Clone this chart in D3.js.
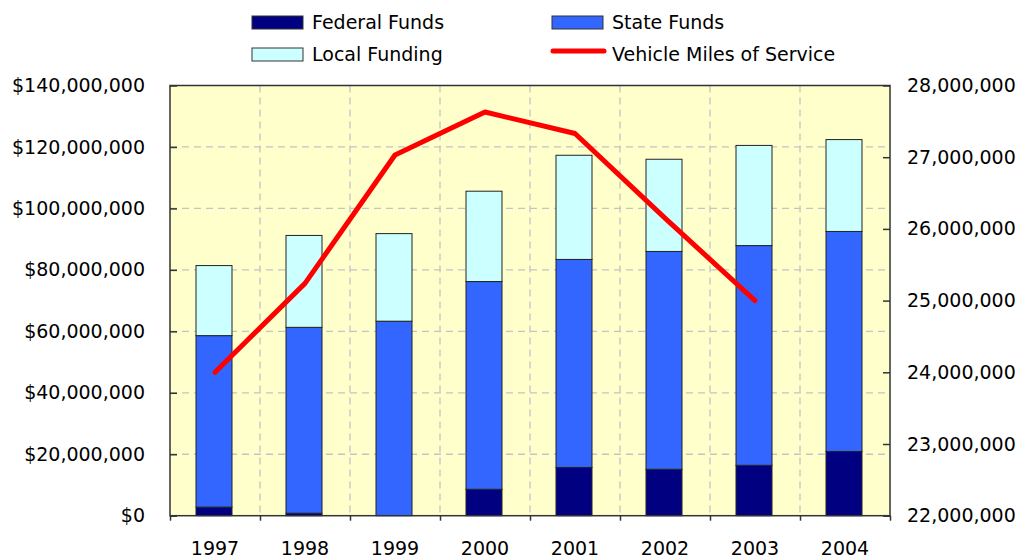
<!DOCTYPE html>
<html>
<head>
<meta charset="utf-8">
<script src="https://cdn.jsdelivr.net/npm/d3@7"></script>
<style>
  body { margin: 0; background: #fff; }
  text { font-family: "DejaVu Sans", sans-serif; fill: #000; }
</style>
</head>
<body>
<div id="chart"></div>
<script>
// data (dollars in millions, miles in millions)
var years = ["1997", "1998", "1999", "2000", "2001", "2002", "2003", "2004"];
var federalFunds = [2.8, 0.8, 0, 8.6, 15.7, 15.1, 16.4, 20.9];
var stateFunds = [55.8, 60.5, 63.3, 67.6, 67.7, 70.9, 71.5, 71.6];
var localFunding = [22.8, 29.9, 28.5, 29.4, 33.9, 30.0, 32.6, 29.9];
var vehicleMiles = [24.0, 25.24, 27.03, 27.63, 27.33, 26.15, 25.0, null];
var leftTicks = [0, 20, 40, 60, 80, 100, 120, 140];
var rightTicks = [22, 23, 24, 25, 26, 27, 28];
var seriesNames = ["Federal Funds", "State Funds", "Local Funding", "Vehicle Miles of Service"];

var width = 1021, height = 558;
var plot = {left: 170, right: 890, top: 85.5, bottom: 515.7};
var colors = {fed: "#000080", state: "#3366ff", local: "#ccffff", line: "#ff0000", bg: "#ffffcc"};
var fontSize = 19;

var svg = d3.select("#chart").append("svg")
    .attr("width", width)
    .attr("height", height);

var x = d3.scaleBand().domain(years).range([plot.left, plot.right]);
var xEdge = d3.scaleLinear().domain([0, years.length]).range([plot.left, plot.right]);
var y = d3.scaleLinear().domain([0, 140]).range([plot.bottom, plot.top]);
var y2 = d3.scaleLinear().domain([22, 28]).range([plot.bottom, plot.top]);

// plot background
svg.append("rect")
    .attr("x", plot.left).attr("y", plot.top)
    .attr("width", plot.right - plot.left)
    .attr("height", plot.bottom - plot.top)
    .attr("fill", colors.bg);

// dashed grid
svg.append("g").selectAll("line")
    .data(leftTicks.slice(1, -1))
    .join("line")
    .attr("x1", plot.left).attr("x2", plot.right)
    .attr("y1", function(d) { return y(d); })
    .attr("y2", function(d) { return y(d); })
    .attr("stroke", "#c4c4c4").attr("stroke-width", 1.3)
    .attr("stroke-dasharray", "7,5");

svg.append("g").selectAll("line")
    .data(d3.range(1, years.length))
    .join("line")
    .attr("x1", function(d) { return xEdge(d); })
    .attr("x2", function(d) { return xEdge(d); })
    .attr("y1", plot.top).attr("y2", plot.bottom)
    .attr("stroke", "#c4c4c4").attr("stroke-width", 1.3)
    .attr("stroke-dasharray", "7,5");

// stacked bars
var rows = years.map(function(yr, i) {
    return {year: yr, fed: federalFunds[i], state: stateFunds[i], local: localFunding[i]};
});
var stack = d3.stack().keys(["fed", "state", "local"]);
var layers = stack(rows);

var barW = x.bandwidth() * 0.4;
svg.append("g").selectAll("g")
    .data(layers)
    .join("g")
    .attr("fill", function(d) { return colors[d.key]; })
    .selectAll("rect")
    .data(function(d) { return d.filter(function(s) { return s[1] - s[0] > 0; }); })
    .join("rect")
    .attr("x", function(d) { return x(d.data.year) + x.bandwidth() * 0.3 - 1; })
    .attr("width", barW)
    .attr("y", function(d) { return y(d[1]); })
    .attr("height", function(d) { return y(d[0]) - y(d[1]); })
    .attr("stroke", "#222")
    .attr("stroke-width", 1);

// plot border
svg.append("rect")
    .attr("x", plot.left).attr("y", plot.top)
    .attr("width", plot.right - plot.left)
    .attr("height", plot.bottom - plot.top)
    .attr("fill", "none")
    .attr("stroke", "#333")
    .attr("stroke-width", 1.5);

// line series
var line = d3.line()
    .defined(function(d) { return d != null; })
    .x(function(d, i) { return x(years[i]) + x.bandwidth() / 2; })
    .y(function(d) { return y2(d); });

svg.append("path")
    .datum(vehicleMiles)
    .attr("d", line)
    .attr("fill", "none")
    .attr("stroke", colors.line)
    .attr("stroke-width", 5)
    .attr("stroke-linejoin", "round")
    .attr("stroke-linecap", "round");

// axes
var fmt = d3.format(",");
var leftAxis = svg.append("g")
    .attr("transform", "translate(" + plot.left + ",0)")
    .call(d3.axisLeft(y).tickValues(leftTicks).tickSize(-7).tickPadding(25)
        .tickFormat(function(d) { return "$" + fmt(d * 1e6); }));

var rightAxis = svg.append("g")
    .attr("transform", "translate(" + plot.right + ",0)")
    .call(d3.axisRight(y2).tickValues(rightTicks).tickSize(-7).tickPadding(17)
        .tickFormat(function(d) { return fmt(d * 1e6); }));

var tickAxis = svg.append("g")
    .attr("transform", "translate(0," + plot.bottom + ")")
    .call(d3.axisBottom(xEdge).ticks(years.length).tickSize(5).tickFormat(""));

var labelAxis = svg.append("g")
    .attr("transform", "translate(0," + plot.bottom + ")")
    .call(d3.axisBottom(x).tickSize(0).tickPadding(26));

[leftAxis, rightAxis, tickAxis, labelAxis].forEach(function(g) {
    g.select(".domain").remove();
    g.selectAll("line").attr("stroke", "#333").attr("stroke-width", 1.5);
    g.selectAll("text").attr("font-size", fontSize).attr("font-family", "DejaVu Sans").attr("fill", "#000");
});

// legend
var legend = svg.append("g");
var legendPos = [[252, 22], [552, 22], [252, 54], [552, 54]];
var legendFill = [colors.fed, colors.state, colors.local];

seriesNames.forEach(function(name, i) {
    var p = legendPos[i];
    if (i < 3) {
        legend.append("rect")
            .attr("x", p[0]).attr("y", p[1] - 6)
            .attr("width", 51).attr("height", 13)
            .attr("fill", legendFill[i])
            .attr("stroke", "#333").attr("stroke-width", 1);
    } else {
        legend.append("line")
            .attr("x1", p[0] + 1).attr("x2", p[0] + 52)
            .attr("y1", p[1] - 3).attr("y2", p[1] - 3)
            .attr("stroke", colors.line).attr("stroke-width", 5)
            .attr("stroke-linecap", "round");
    }
    legend.append("text")
        .attr("x", p[0] + 60).attr("y", p[1])
        .attr("dy", "0.35em")
        .attr("font-size", fontSize)
        .text(name);
});
</script>
</body>
</html>
